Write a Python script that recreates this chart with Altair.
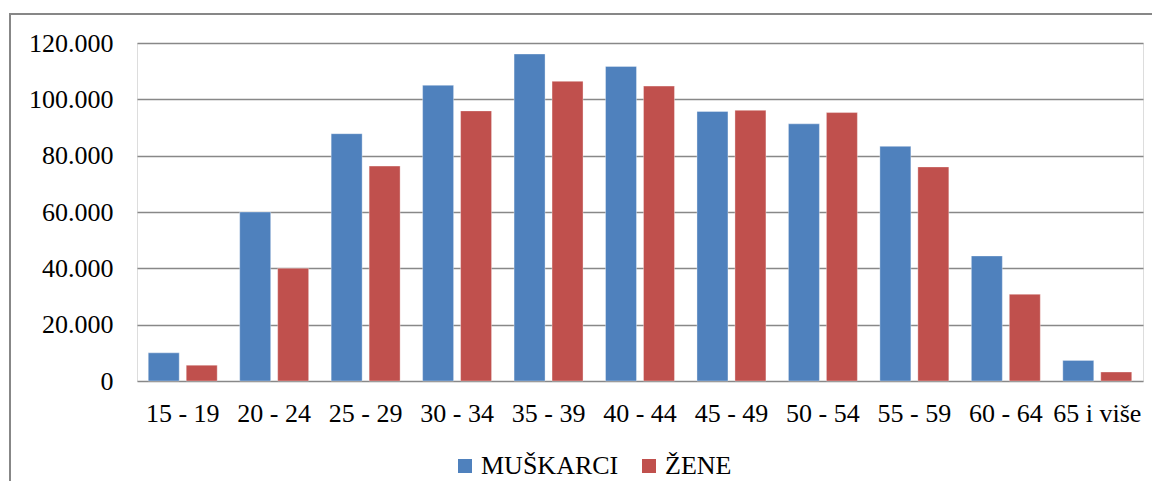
import altair as alt
import pandas as pd

categories = ["15 - 19", "20 - 24", "25 - 29", "30 - 34", "35 - 39", "40 - 44",
              "45 - 49", "50 - 54", "55 - 59", "60 - 64", "65 i više"]
series = ["MUŠKARCI", "ŽENE"]
muskarci = [10000, 60000, 87800, 105000, 116100, 111700, 95700, 91300, 83300, 44400, 7300]
zene = [5600, 40000, 76300, 95900, 106400, 104700, 96100, 95300, 76000, 30800, 3200]
colors = ["#4F81BD", "#C0504D"]
y_ticks = [0, 20000, 40000, 60000, 80000, 100000, 120000]

rows = []
for c, m, z in zip(categories, muskarci, zene):
    rows.append({"kat": c, "pol": series[0], "v": m})
    rows.append({"kat": c, "pol": series[1], "v": z})
df = pd.DataFrame(rows)

W, H = 1006, 338
FONT = "Liberation Serif"
FS = 26

bars = alt.Chart(df).mark_bar(stroke="white", strokeOpacity=0.35, strokeWidth=1).encode(
    x=alt.X("kat:N", sort=categories, title=None,
            scale=alt.Scale(paddingInner=0.246, paddingOuter=0.123),
            axis=alt.Axis(labelAngle=0, ticks=False, domain=False, labelFontSize=FS,
                          labelFont=FONT, labelColor="black", labelPadding=19)),
    xOffset=alt.XOffset("pol:N", sort=series, scale=alt.Scale(paddingInner=0.184)),
    y=alt.Y("v:Q", title=None,
            scale=alt.Scale(domain=[0, 120000], nice=False),
            axis=alt.Axis(values=y_ticks, ticks=False, domain=False, labelFontSize=FS,
                          labelFont=FONT, labelColor="black", labelPadding=24,
                          gridColor="#888888", gridWidth=1.6,
                          labelExpr="replace(format(datum.value, ','), ',', '.')")),
    color=alt.Color("pol:N", sort=series,
                    scale=alt.Scale(domain=series, range=colors),
                    legend=alt.Legend(orient="none", legendX=315, legendY=410,
                                      direction="horizontal", title=None,
                                      symbolType="square", symbolSize=196,
                                      symbolStrokeWidth=0, labelFontSize=FS,
                                      labelFont=FONT, labelColor="black",
                                      labelOffset=3, columnPadding=17, padding=0)),
)

frame = alt.Data(values=[{}])
top_border = alt.Chart(frame).mark_rule(color="#878787", strokeWidth=2).encode(
    x=alt.value(-128), x2=alt.value(W + 9), y=alt.value(-29))
left_border = alt.Chart(frame).mark_rule(color="#878787", strokeWidth=2).encode(
    x=alt.value(-127), y=alt.value(-29), y2=alt.value(H + 110))

chart = alt.layer(bars, top_border, left_border).properties(
    width=W, height=H,
    autosize=alt.AutoSizeParams(type="none"),
    padding={"left": 129, "top": 35, "right": 9, "bottom": 100},
).configure_view(stroke=None).configure(background="white", font=FONT)

chart.save("out.html", embed_options={"renderer": "svg", "actions": False})
